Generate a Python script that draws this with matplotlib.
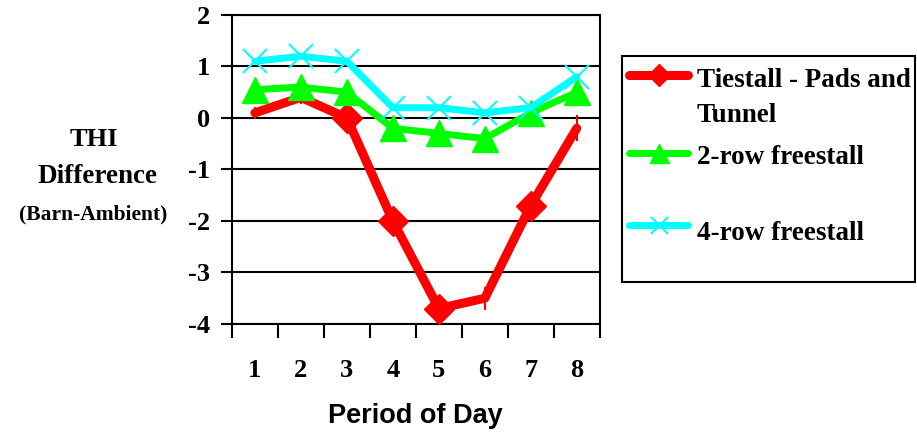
import matplotlib.pyplot as plt
from matplotlib.lines import Line2D
from matplotlib.patches import Rectangle

periods = [1, 2, 3, 4, 5, 6, 7, 8]
tiestall = [0.1, 0.4, 0.0, -2.0, -3.7, -3.5, -1.7, -0.2]
tiestall_err = [0.12, 0.12, 0.0, 0.0, 0.0, 0.22, 0.0, 0.25]
two_row = [0.55, 0.6, 0.5, -0.2, -0.3, -0.4, 0.1, 0.5]
four_row = [1.1, 1.2, 1.1, 0.2, 0.2, 0.1, 0.2, 0.8]
yticks = [2, 1, 0, -1, -2, -3, -4]

serif = "Liberation Serif"
red_style = dict(color="#ff0000", lw=6.5, marker="D", ms=15)
green_style = dict(color="#00ff00", lw=5, marker="^", ms=19)
cyan_style = dict(color="#00ffff", lw=5, marker="x", ms=17, mew=1.5)

fig = plt.figure(figsize=(9.17, 4.34), dpi=100)
ax = fig.add_axes([0.253, 0.2535, 0.401, 0.712])

ax.errorbar(periods, tiestall, yerr=tiestall_err, fmt="none", ecolor="#ff0000",
            elinewidth=1.5, capsize=0, zorder=3)
ax.plot(periods, tiestall, markevery=[2, 3, 4, 6], solid_capstyle="round",
        zorder=4, **red_style)
ax.plot(periods, two_row, solid_capstyle="round", zorder=5, **green_style)
ax.plot(periods, four_row, solid_capstyle="round", zorder=6, **cyan_style)

ax.set_xlim(0.5, 8.5)
ax.set_ylim(-4, 2)
ax.set_yticks(yticks)
ax.set_yticklabels([str(v) for v in yticks], fontfamily=serif,
                   fontweight="bold", fontsize=19)
ax.set_xticks([p + 0.5 for p in [0] + periods])
ax.set_xticklabels([])
ax.set_xticks(periods, minor=True)
ax.set_xticklabels([str(p) for p in periods], minor=True, fontfamily=serif,
                   fontweight="bold", fontsize=19)
ax.tick_params(axis="x", which="major", direction="out", length=10, width=1.5)
ax.tick_params(axis="x", which="minor", length=0, pad=25)
ax.tick_params(axis="y", direction="out", length=8, width=1.5, pad=8)
ax.yaxis.grid(True, color="black", lw=1.5)
ax.set_axisbelow(True)
for s in ax.spines.values():
    s.set_linewidth(1.5)

ax.set_xlabel("Period of Day", fontfamily="Liberation Sans", fontweight="bold",
              fontsize=19.5, labelpad=15)

# y axis title, three lines
fig.text(94 / 917, 1 - 146 / 434, "THI", ha="center", va="baseline",
         fontfamily=serif, fontweight="bold", fontsize=19)
fig.text(97 / 917, 1 - 183 / 434, "Difference", ha="center", va="baseline",
         fontfamily=serif, fontweight="bold", fontsize=19.5)
fig.text(93 / 917, 1 - 219 / 434, "(Barn-Ambient)", ha="center", va="baseline",
         fontfamily=serif, fontweight="bold", fontsize=15.5)

# legend box
fig.patches.append(Rectangle((622 / 917, 1 - 282 / 434), 293 / 917, 226 / 434,
                             transform=fig.transFigure, fill=False,
                             edgecolor="black", lw=1.5))
entries = [
    (red_style, 75, [(87, "Tiestall - Pads and"), (122, "Tunnel")]),
    (green_style, 153, [(164, "2-row freestall")]),
    (cyan_style, 225, [(240, "4-row freestall")]),
]
for style, ypx, lines in entries:
    y = 1 - ypx / 434
    st = dict(style)
    st["ms"] = st["ms"] * 0.72
    fig.add_artist(Line2D([629 / 917, 688 / 917], [y, y], transform=fig.transFigure,
                          markevery=[], solid_capstyle="round", **st))
    fig.add_artist(Line2D([658.5 / 917], [y], transform=fig.transFigure,
                          linestyle="none", **{k: v for k, v in st.items() if k != "lw"}))
    for base, txt in lines:
        fig.text(697 / 917, 1 - base / 434, txt, ha="left", va="baseline",
                 fontfamily=serif, fontweight="bold", fontsize=19.5)

fig.savefig("out.png", dpi=100)
